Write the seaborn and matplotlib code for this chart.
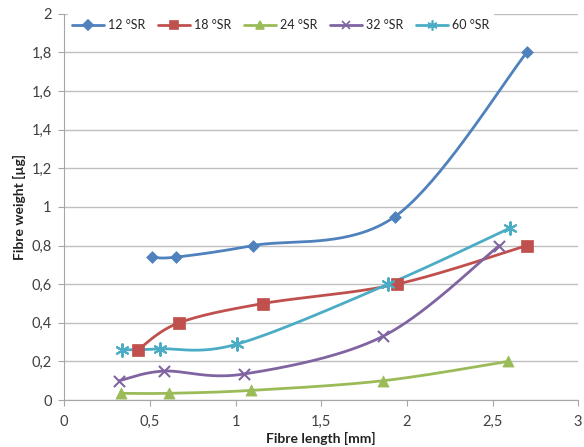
#!/usr/bin/env python3
import numpy as np
import pandas as pd
import seaborn as sns
from matplotlib import pyplot as plt
from matplotlib.lines import Line2D
from matplotlib.ticker import FuncFormatter

series_names = ["12 °SR", "18 °SR", "24 °SR", "32 °SR", "60 °SR"]

len_12 = [0.51, 0.65, 1.10, 1.93, 2.70]
wt_12 = [0.74, 0.74, 0.80, 0.95, 1.80]

len_18 = [0.43, 0.67, 1.16, 1.94, 2.70]
wt_18 = [0.26, 0.40, 0.50, 0.60, 0.80]

len_24 = [0.33, 0.61, 1.09, 1.86, 2.59]
wt_24 = [0.035, 0.035, 0.05, 0.10, 0.20]

len_32 = [0.32, 0.58, 1.05, 1.86, 2.54]
wt_32 = [0.10, 0.15, 0.135, 0.33, 0.80]

len_60 = [0.34, 0.56, 1.01, 1.89, 2.60]
wt_60 = [0.26, 0.265, 0.29, 0.60, 0.89]

lengths = [len_12, len_18, len_24, len_32, len_60]
weights = [wt_12, wt_18, wt_24, wt_32, wt_60]

colors = ["#4F81BD", "#C0504D", "#9BBB59", "#8064A2", "#4BACC6"]
markers = ["D", "s", "^", "x", (6, 2, 0)]
msizes = [6, 8, 8, 8, 9]


def smooth(xs, ys, n=40):
    # excel-like smoothed line: catmull-rom segments as cubic beziers
    p = np.column_stack([xs, ys]).astype(float)
    pts = np.vstack([p[0], p, p[-1]])
    out = []
    t = np.linspace(0, 1, n)[:, None]
    for i in range(1, len(pts) - 2):
        p0, p1, p2, p3 = pts[i - 1], pts[i], pts[i + 1], pts[i + 2]
        c1 = p1 + (p2 - p0) / 6
        c2 = p2 - (p3 - p1) / 6
        seg = ((1 - t) ** 3) * p1 + 3 * ((1 - t) ** 2) * t * c1 + 3 * (1 - t) * t ** 2 * c2 + t ** 3 * p2
        out.append(seg)
    return np.vstack(out)


sns.set_style("white")
plt.rcParams["font.family"] = ["Lato", "DejaVu Sans"]

fig, ax = plt.subplots(figsize=(5.84, 4.47), dpi=100)
fig.subplots_adjust(left=0.110, right=0.990, bottom=0.105, top=0.969)

handles = []
for name, xs, ys, c, m, ms in zip(series_names, lengths, weights, colors, markers, msizes):
    curve = smooth(xs, ys)
    cdf = pd.DataFrame({"x": curve[:, 0], "y": curve[:, 1]})
    sns.lineplot(data=cdf, x="x", y="y", sort=False, color=c, lw=2, ax=ax, zorder=3)
    pdf = pd.DataFrame({"x": xs, "y": ys})
    kw = dict(linewidths=1.5) if m in ("x", (6, 2, 0)) else dict(edgecolor=c, linewidth=0.5)
    ax.scatter(pdf.x, pdf.y, marker=m, s=ms ** 2, color=c, zorder=4, **kw)
    handles.append(Line2D([], [], color=c, lw=2, marker=m, markersize=ms * 0.8,
                          markeredgewidth=1.2, label=name))

ax.set_xlim(0, 3)
ax.set_ylim(0, 2)
ax.set_xticks(np.arange(0, 3.01, 0.5))
ax.set_yticks(np.arange(0, 2.01, 0.2))
fmt = FuncFormatter(lambda v, _: f"{v:g}".replace(".", ","))
ax.xaxis.set_major_formatter(fmt)
ax.yaxis.set_major_formatter(fmt)
ax.yaxis.grid(True, color="#BFBFBF", lw=1)
for s in ["top", "right"]:
    ax.spines[s].set_visible(False)
for s in ["left", "bottom"]:
    ax.spines[s].set_color("#A6A6A6")
ax.tick_params(axis="both", which="major", length=4, color="#A6A6A6", direction="out",
               labelsize=10.5, labelcolor="#404040", bottom=True, left=True)
ax.tick_params(axis="x", pad=7)
ax.tick_params(axis="y", pad=5)
ax.set_xlabel("Fibre length [mm]", fontsize=10, fontweight="bold", color="#222222", labelpad=2)
ax.set_ylabel("Fibre weight [µg]", fontsize=10, fontweight="bold", color="#222222", labelpad=4)

leg = ax.legend(handles=handles, ncol=5, loc="upper left", bbox_to_anchor=(0.0, 1.005),
                frameon=True, fontsize=9, handlelength=2.6, columnspacing=1.0,
                handletextpad=0.3, borderaxespad=0.2)
leg.get_frame().set_edgecolor("white")
leg.get_frame().set_facecolor("white")
leg.get_frame().set_alpha(1)

fig.savefig("out.png", dpi=100)
